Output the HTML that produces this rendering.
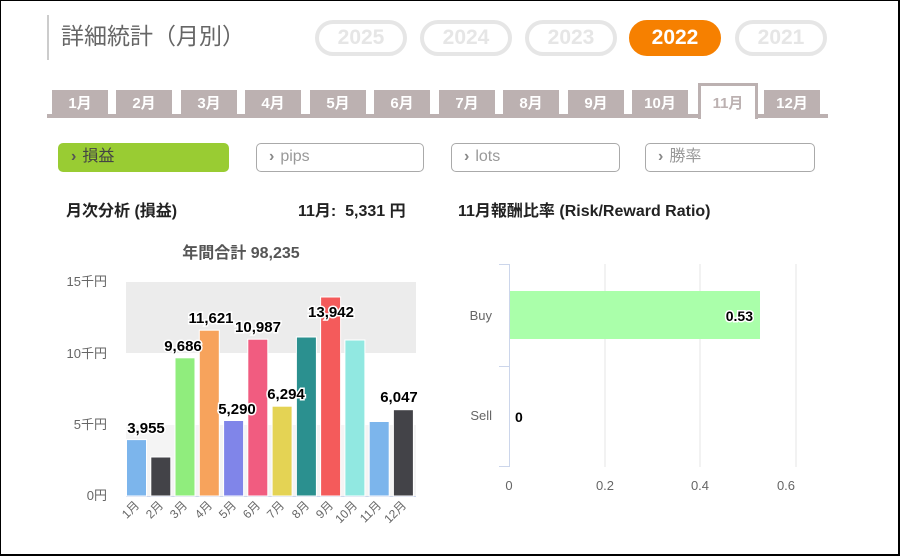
<!DOCTYPE html>
<html><head><meta charset="utf-8"><style>
*{margin:0;padding:0;box-sizing:border-box}
body{width:900px;height:556px;background:#fff;position:relative;overflow:hidden;font-family:"Liberation Sans","Noto Sans CJK JP",sans-serif}
.frame{position:absolute;left:0;top:0;width:900px;height:556px;border:1px solid #000;border-right:2px solid #000;border-bottom:2px solid #000}
.abs{position:absolute}
.title{left:47px;top:15px;height:45px;border-left:2px solid #ccc;padding-left:12px;font-size:23px;color:#666;line-height:42px}
.pill{top:20px;width:92px;height:36px;border:4px solid #e6e6e6;border-radius:18px;color:#e6e6e6;font-weight:bold;font-size:21px;text-align:center;line-height:28px}
.pill.on{background:#f68000;border-color:#f68000;color:#fff}
.tab{top:90px;width:56px;height:27px;background:#bcb1b1;color:#fff;font-size:15px;font-weight:bold;text-align:center;line-height:27px}
.tab.on{top:83px;height:36px;background:#fff;border:3px solid #bcb1b1;border-bottom:none;color:#bcb1b1;line-height:36px}
.btn{top:143px;height:29px;border:1.5px solid #aaa;border-radius:5px;color:#999;font-size:16px;line-height:26px;padding-left:12px}
.btn b{color:#555;margin-right:6px}
.lbl{font-size:16px;font-weight:bold;color:#222}
</style></head><body>
<div class="frame"></div>
<div class="abs title">詳細統計（月別）</div>
<div class="abs pill" style="left:315px">2025</div>
<div class="abs pill" style="left:420px">2024</div>
<div class="abs pill" style="left:525px">2023</div>
<div class="abs pill on" style="left:629px">2022</div>
<div class="abs pill" style="left:735px">2021</div>
<div class="abs" style="left:47px;top:114px;width:781px;height:4px;background:#bcb1b1"></div>
<div class="abs tab" style="left:52px">1月</div>
<div class="abs tab" style="left:116px">2月</div>
<div class="abs tab" style="left:181px">3月</div>
<div class="abs tab" style="left:245px">4月</div>
<div class="abs tab" style="left:310px">5月</div>
<div class="abs tab" style="left:374px">6月</div>
<div class="abs tab" style="left:439px">7月</div>
<div class="abs tab" style="left:503px">8月</div>
<div class="abs tab" style="left:568px">9月</div>
<div class="abs tab" style="left:632px">10月</div>
<div class="abs tab on" style="left:698px;width:60px">11月</div>
<div class="abs tab" style="left:764px">12月</div>
<div class="abs btn" style="left:58px;width:171px;background:#99cc33;border-color:#99cc33;color:#444"><b>›</b>損益</div>
<div class="abs btn" style="left:256px;width:168px"><b style="color:#888">›</b>pips</div>
<div class="abs btn" style="left:451px;width:169px"><b style="color:#888">›</b>lots</div>
<div class="abs btn" style="left:645px;width:170px"><b style="color:#888">›</b>勝率</div>
<div class="abs lbl" style="left:66px;top:197px">月次分析 (損益)</div>
<div class="abs lbl" style="left:298px;top:197px">11月:&nbsp; 5,331 円</div>
<div class="abs lbl" style="left:458px;top:197px">11月報酬比率 (Risk/Reward Ratio)</div>
<svg class="abs" style="left:0;top:0" width="900" height="556" font-family="Liberation Sans, Noto Sans CJK JP, sans-serif">
<text x="241" y="258" text-anchor="middle" font-size="16" font-weight="bold" fill="#555">年間合計 98,235</text>
<rect x="126" y="282" width="290" height="71" fill="#ececec"/>
<rect x="126" y="425" width="290" height="71" fill="#f4f4f4"/>
<line x1="126" y1="496.5" x2="416" y2="496.5" stroke="#ccd6eb"/>
<g font-size="13" fill="#666" text-anchor="end">
<text x="107" y="500">0円</text><text x="107" y="429">5千円</text><text x="107" y="358">10千円</text><text x="107" y="286">15千円</text></g>
<g stroke="#fff" stroke-width="1">
<rect x="126.5" y="439.6" width="20" height="56.4" fill="#7cb5ec"/>
<rect x="150.8" y="457" width="20" height="39" fill="#434348"/>
<rect x="175" y="357.8" width="20" height="138.2" fill="#90ed7d"/>
<rect x="199.3" y="330.2" width="20" height="165.8" fill="#f7a35c"/>
<rect x="223.6" y="420.5" width="20" height="75.5" fill="#8085e9"/>
<rect x="247.8" y="339.2" width="20" height="156.8" fill="#f15c80"/>
<rect x="272.1" y="406.2" width="20" height="89.8" fill="#e4d354"/>
<rect x="296.4" y="337" width="20" height="159" fill="#2b908f"/>
<rect x="320.6" y="297" width="20" height="199" fill="#f45b5b"/>
<rect x="344.9" y="340" width="20" height="156" fill="#91e8e1"/>
<rect x="369.2" y="421.5" width="20" height="74.5" fill="#7cb5ec"/>
<rect x="393.4" y="409.7" width="20" height="86.3" fill="#434348"/>
</g>
<g font-size="15" font-weight="bold" fill="#000" text-anchor="middle" stroke="#fff" stroke-width="3" paint-order="stroke">
<text x="146" y="433">3,955</text><text x="183" y="351">9,686</text><text x="211" y="323">11,621</text>
<text x="237" y="414">5,290</text><text x="258" y="332">10,987</text><text x="286" y="399">6,294</text>
<text x="331" y="317">13,942</text><text x="399" y="402">6,047</text></g>
<g font-size="12" fill="#666" text-anchor="end">
<text transform="translate(140,506) rotate(-45)">1月</text><text transform="translate(164,506) rotate(-45)">2月</text>
<text transform="translate(188,506) rotate(-45)">3月</text><text transform="translate(213,506) rotate(-45)">4月</text>
<text transform="translate(237,506) rotate(-45)">5月</text><text transform="translate(261,506) rotate(-45)">6月</text>
<text transform="translate(285,506) rotate(-45)">7月</text><text transform="translate(310,506) rotate(-45)">8月</text>
<text transform="translate(334,506) rotate(-45)">9月</text><text transform="translate(358,506) rotate(-45)">10月</text>
<text transform="translate(382,506) rotate(-45)">11月</text><text transform="translate(407,506) rotate(-45)">12月</text></g>
<g stroke="#e6e6e6" stroke-width="1"><line x1="605" y1="264" x2="605" y2="467"/><line x1="700" y1="264" x2="700" y2="467"/><line x1="796" y1="264" x2="796" y2="467"/></g>
<path d="M499,264.5H509.5V466.5H499M499,366.5H509" fill="none" stroke="#ccd6eb"/>
<rect x="510" y="291" width="250" height="48" fill="#aaffaa"/>
<g font-size="14" font-weight="bold" fill="#000" stroke="#fff" stroke-width="3" paint-order="stroke">
<text x="753" y="321" text-anchor="end">0.53</text><text x="515" y="422">0</text></g>
<g font-size="13" fill="#666" text-anchor="end"><text x="492" y="320">Buy</text><text x="492" y="420">Sell</text></g>
<g font-size="13" fill="#666" text-anchor="middle"><text x="509" y="490">0</text><text x="605" y="490">0.2</text><text x="700" y="490">0.4</text><text x="786" y="490">0.6</text></g>
</svg>
</body></html>
